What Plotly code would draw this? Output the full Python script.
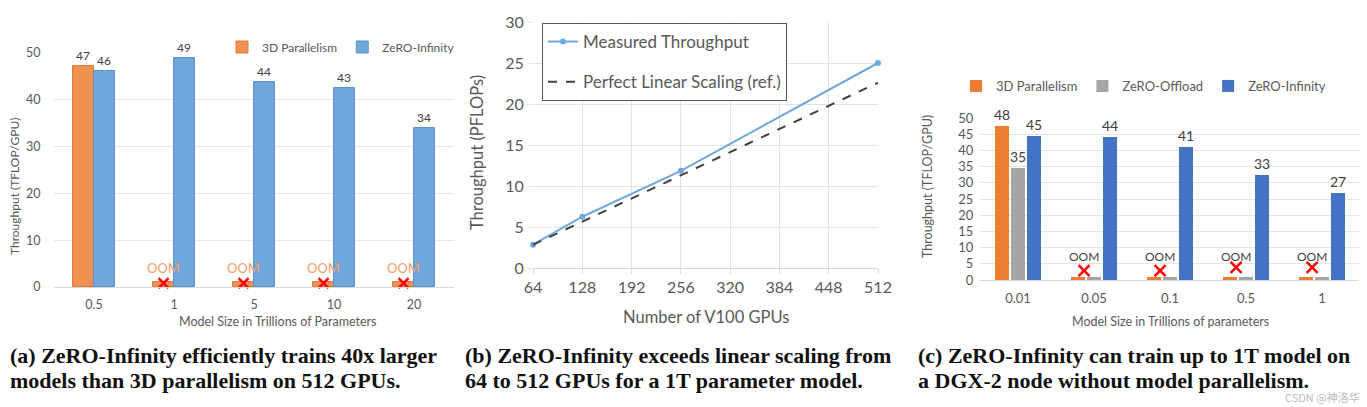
import plotly.graph_objects as go

# The page body adds an 8 px margin; all positions below are given in
# screen pixels and converted to figure coordinates.
SCREEN_W, SCREEN_H = 1367, 407
OFF = 8
W, H = SCREEN_W - OFF, SCREEN_H - OFF

# ---------------- Data ----------------
# Panel (a)
a_sizes = ["0.5", "1", "5", "10", "20"]
a_3d = [47.2, 1.0, 1.0, 1.0, 1.0]
a_3d_labels = ["47", "", "", "", ""]
a_inf = [46.2, 48.9, 43.8, 42.6, 33.9]
a_inf_labels = ["46", "49", "44", "43", "34"]
a_oom_text_y = [None, 3.6, 3.6, 3.6, 3.6]
a_oom_mark_y = [None, 0.85, 0.85, 0.85, 0.85]

# Panel (b)
b_gpus = [64, 128, 256, 512]
b_measured = [2.85, 6.25, 11.85, 25.0]
b_linear = [2.83, 5.65, 11.3, 22.6]

# Panel (c)
c_sizes = ["0.01", "0.05", "0.1", "0.5", "1"]
c_3d = [47.5, 0.8, 0.8, 0.8, 0.8]
c_off = [34.5, 0.8, 0.8, 0.8, 0.8]
c_inf = [44.6, 44.0, 40.9, 32.5, 26.7]
c_3d_labels = ["48", "", "", "", ""]
c_off_labels = ["35", "", "", "", ""]
c_inf_labels = ["45", "44", "41", "33", "27"]
c_oom_text_y = [None, 6.7, 6.7, 6.7, 6.7]
c_oom_mark_y = [None, 2.9, 2.9, 3.9, 3.9]

captions = {
    "a": ["(a) ZeRO-Infinity efficiently trains 40x larger",
          "models than 3D parallelism on 512 GPUs."],
    "b": ["(b) ZeRO-Infinity exceeds linear scaling from",
          "64 to 512 GPUs for a 1T parameter model."],
    "c": ["(c) ZeRO-Infinity can train up to 1T model on",
          "a DGX-2 node without model parallelism."],
}

# ---------------- Styles ----------------
FONT = "Lato"
TXT = "#595959"
LBL = "#404040"
A_ORANGE, A_BLUE = "#F0914F", "#6FA7DC"
C_ORANGE, C_GRAY, C_BLUE = "#ED7D31", "#A5A5A5", "#4472C4"

a_x = list(range(len(a_sizes)))
c_x = list(range(len(c_sizes)))
A_W = 0.2625          # bar width (category units) in (a)
C_W, C_SLOT = 0.184, 0.21
A_OOM_SHIFT = -A_W / 2
C_OOM_SHIFT = -0.13


def fx(px):
    return (px - OFF) / W


def fy(py):
    return 1 - (py - OFF) / H


def px_x(a, b):
    return [fx(a), fx(b)]


def px_y(top, bottom):
    return [fy(bottom), fy(top)]


fig = go.Figure()

# ---- Panel (a) ----
fig.add_trace(go.Bar(
    x=a_x, y=a_3d, name="3D Parallelism", width=A_W, offset=-A_W,
    marker=dict(color=A_ORANGE, line=dict(color="#DD7B3A", width=1)),
    text=a_3d_labels, textposition="outside", cliponaxis=False, constraintext="none",
    textfont=dict(size=12, color=LBL, family=FONT),
    xaxis="x", yaxis="y", legend="legend"))
fig.add_trace(go.Bar(
    x=a_x, y=a_inf, name="ZeRO-Infinity", width=A_W, offset=0,
    marker=dict(color=A_BLUE, line=dict(color="#5B93CA", width=1)),
    text=a_inf_labels, textposition="outside", cliponaxis=False, constraintext="none",
    textfont=dict(size=12, color=LBL, family=FONT),
    xaxis="x", yaxis="y", legend="legend"))
fig.add_trace(go.Scatter(
    x=[v + A_OOM_SHIFT for v in a_x], y=a_oom_text_y, mode="text",
    text=["OOM"] * len(a_x), textfont=dict(size=13, color="#F4A064", family=FONT),
    showlegend=False, cliponaxis=False, xaxis="x", yaxis="y"))
fig.add_trace(go.Scatter(
    x=[v + A_OOM_SHIFT for v in a_x], y=a_oom_mark_y, mode="markers",
    marker=dict(symbol="x-thin-open", size=10, color="#FF0000",
                line=dict(color="#FF0000", width=2.5)),
    showlegend=False, cliponaxis=False, xaxis="x", yaxis="y"))

# ---- Panel (b) ----
fig.add_trace(go.Scatter(
    x=b_gpus, y=b_measured, name="Measured Throughput", mode="lines+markers",
    line=dict(color="#6FA8DC", width=2), marker=dict(size=6, color="#6FA8DC"),
    cliponaxis=False, xaxis="x2", yaxis="y2", legend="legend2", legendgroup="m"))
fig.add_trace(go.Scatter(
    x=b_gpus, y=b_linear, name="Perfect Linear Scaling (ref.)", mode="lines",
    line=dict(color="#404040", width=2, dash="dash"),
    cliponaxis=False, xaxis="x2", yaxis="y2", legend="legend2", legendgroup="l"))

# ---- Panel (c) ----
for vals, labels, name, col, k in [
        (c_3d, c_3d_labels, "3D Parallelism", C_ORANGE, 0),
        (c_off, c_off_labels, "ZeRO-Offload", C_GRAY, 1),
        (c_inf, c_inf_labels, "ZeRO-Infinity", C_BLUE, 2)]:
    fig.add_trace(go.Bar(
        x=c_x, y=vals, name=name, width=C_W,
        offset=-1.5 * C_SLOT + (C_SLOT - C_W) / 2 + k * C_SLOT,
        marker=dict(color=col),
        text=labels, textposition="outside", cliponaxis=False, constraintext="none",
        textfont=dict(size=14, color=LBL, family=FONT),
        xaxis="x3", yaxis="y3", legend="legend3"))
fig.add_trace(go.Scatter(
    x=[v + C_OOM_SHIFT for v in c_x], y=c_oom_text_y, mode="text",
    text=["OOM"] * len(c_x), textfont=dict(size=12, color=LBL, family=FONT),
    showlegend=False, cliponaxis=False, xaxis="x3", yaxis="y3"))
fig.add_trace(go.Scatter(
    x=[v + C_OOM_SHIFT for v in c_x], y=c_oom_mark_y, mode="markers",
    marker=dict(symbol="x-thin-open", size=11, color="#FF0000",
                line=dict(color="#FF0000", width=2.5)),
    showlegend=False, cliponaxis=False, xaxis="x3", yaxis="y3"))

# ---------------- Axes ----------------
grid = "#E6E6E6"
fig.update_layout(
    template="none",
    width=W, height=H, margin=dict(l=0, r=0, t=0, b=0, pad=0, autoexpand=False),
    paper_bgcolor="white", plot_bgcolor="white",
    font=dict(family=FONT, color=TXT),
    bargap=0, hovermode=False,
    xaxis=dict(domain=px_x(54, 454), anchor="y", range=[-0.5, 4.5],
               tickvals=a_x, ticktext=a_sizes, showgrid=False, zeroline=False,
               showline=True, linecolor="#D9D9D9", ticks="outside", ticklen=6,
               tickcolor="rgba(0,0,0,0)", tickfont=dict(size=12.5, color=TXT)),
    yaxis=dict(domain=px_y(53, 287), anchor="x", range=[0, 50], dtick=10,
               showgrid=True, gridcolor=grid, zeroline=False, showline=False,
               ticks="outside", ticklen=10, tickcolor="rgba(0,0,0,0)",
               tickfont=dict(size=12.5, color=TXT)),
    xaxis2=dict(domain=px_x(533, 878), anchor="y2", range=[64, 512],
                tick0=64, dtick=64, showgrid=True, gridcolor="#E3E3E3", zeroline=False,
                showline=True, linecolor="#D9D9D9", ticks="outside", ticklen=5,
                tickcolor="#D9D9D9", tickfont=dict(size=16, color=TXT)),
    yaxis2=dict(domain=px_y(22, 268), anchor="x2", range=[0, 30], dtick=5,
                showgrid=True, gridcolor="#E3E3E3", zeroline=False, showline=False,
                ticks="outside", ticklen=5, tickcolor="#E3E3E3",
                tickfont=dict(size=16, color=TXT)),
    xaxis3=dict(domain=px_x(980, 1360), anchor="y3", range=[-0.5, 4.5],
                tickvals=c_x, ticktext=c_sizes, showgrid=False, zeroline=False,
                showline=True, linecolor="#D9D9D9", ticks="outside", ticklen=6,
                tickcolor="rgba(0,0,0,0)", tickfont=dict(size=13, color=TXT)),
    yaxis3=dict(domain=px_y(118, 280), anchor="x3", range=[0, 50], dtick=5,
                showgrid=True, gridcolor="#E3E3E3", zeroline=False, showline=False,
                ticks="outside", ticklen=3, tickcolor="rgba(0,0,0,0)",
                tickfont=dict(size=13, color=TXT)),
    legend=dict(orientation="h", x=fx(222), xanchor="left", y=fy(47), yanchor="middle",
                font=dict(size=12, color=TXT), bgcolor="rgba(0,0,0,0)"),
    legend2=dict(orientation="v", x=fx(542), xanchor="left", y=fy(23), yanchor="top",
                 font=dict(size=17, color=TXT), bgcolor="white",
                 bordercolor="#595959", borderwidth=1, tracegroupgap=15),
    legend3=dict(orientation="h", x=fx(956), xanchor="left", y=fy(86), yanchor="middle",
                 font=dict(size=13, color=TXT), bgcolor="rgba(0,0,0,0)"),
)

ann = []


def add_text(text, x, y, size, color=TXT, angle=0, xanchor="center", family=FONT, bold=False):
    ann.append(dict(text=f"<b>{text}</b>" if bold else text, x=fx(x), y=fy(y),
                    xref="paper", yref="paper", showarrow=False, textangle=angle,
                    xanchor=xanchor, yanchor="middle",
                    font=dict(size=size, color=color, family=family)))


# axis titles
add_text("Throughput (TFLOP/GPU)", 14, 187, 12, angle=-90)
add_text("Model Size in Trillions of Parameters", 278, 321, 12.5)
add_text("Throughput (PFLOPs)", 477, 153, 16.5, angle=-90)
add_text("Number of V100 GPUs", 706, 317, 16.5)
add_text("Throughput (TFLOP/GPU)", 927, 187, 12.5, angle=-90)
add_text("Model Size in Trillions of parameters", 1170, 321, 12.5)

# captions
for key, x0 in [("a", 8), ("b", 463), ("c", 916)]:
    add_text(captions[key][0], x0, 355, 22, color="#111111", xanchor="left",
             family="Liberation Serif", bold=True)
    add_text(captions[key][1], x0, 380, 22, color="#111111", xanchor="left",
             family="Liberation Serif", bold=True)

# watermark
ann.append(dict(text="CSDN @神洛华", x=fx(1362), y=fy(397), xref="paper", yref="paper",
                showarrow=False, xanchor="right", yanchor="middle",
                font=dict(size=11, color="#BBBBBB", family="Noto Sans CJK SC")))

fig.update_layout(annotations=ann)
fig.write_html("out.html")
